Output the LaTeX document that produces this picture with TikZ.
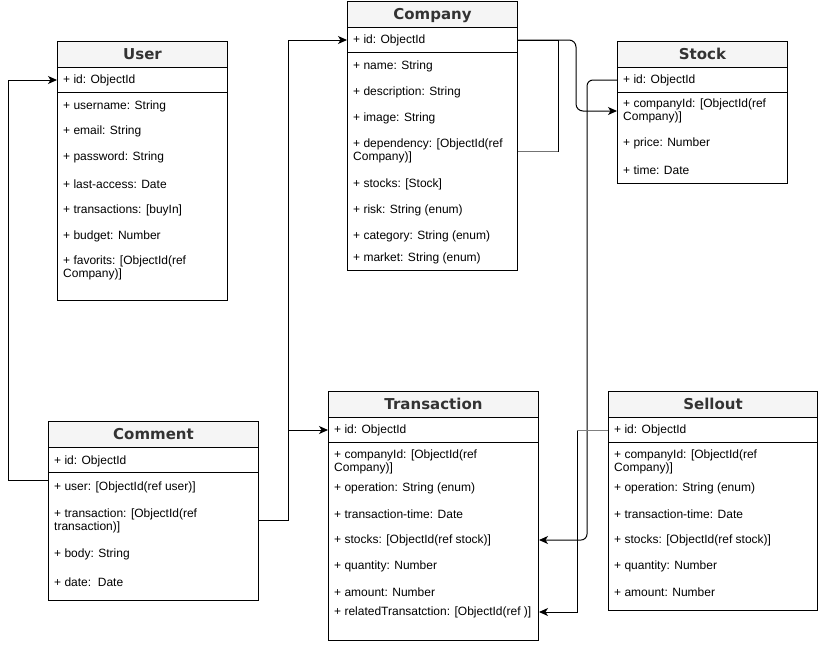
\documentclass[tikz,border=0pt]{standalone}
\usepackage{fontspec}
\setmainfont{Liberation Sans}
\newfontfamily\headfont{DejaVu Sans}
\usetikzlibrary{arrows.meta}
\definecolor{headfill}{HTML}{F5F5F5}
\definecolor{headtext}{HTML}{333333}

\tikzset{
  classbox/.style={draw, line width=1pt, fill=white, inner sep=0pt, anchor=north west},
  headbox/.style={draw, line width=1pt, fill=headfill, inner sep=0pt, anchor=north west,
    minimum height=26pt, text=headtext, text height=11pt, text depth=1pt,
    font=\headfont\bfseries\fontsize{15}{18}\selectfont},
  attr/.style={anchor=west, inner sep=0pt, align=left, font=\fontsize{12}{13}\selectfont},
  sepline/.style={line width=1pt},
  link/.style={line width=1pt},
  conn/.style={line width=1pt, -{Stealth[length=9pt,width=8pt,inset=2.5pt]}},
}

\begin{document}
\begin{tikzpicture}[x=1pt,y=-1pt]
\useasboundingbox (0,0) rectangle (818,648);

% ---------- Company ----------
\node[classbox, minimum width=170pt, minimum height=269pt] (co) at (347,1) {};
\node[headbox, minimum width=170pt] (co-h) at (347,1) {Company};
\draw[sepline] (347,52) -- (517,52);
\node[attr] (co-id)   at (353,40)  {+ id: ObjectId};
\node[attr] (co-name) at (353,66)  {+ name: String};
\node[attr] (co-desc) at (353,92)  {+ description: String};
\node[attr] (co-img)  at (353,118) {+ image: String};
\node[attr] (co-dep)  at (353,151) {+ dependency: [ObjectId(ref\\Company)]};
\node[attr] (co-stk)  at (353,184) {+ stocks: [Stock]};
\node[attr] (co-risk) at (353,210) {+ risk: String (enum)};
\node[attr] (co-cat)  at (353,236) {+ category: String (enum)};
\node[attr] (co-mkt)  at (353,258) {+ market: String (enum)};

% ---------- Stock ----------
\node[classbox, minimum width=170pt, minimum height=142pt] (st) at (617,41) {};
\node[headbox, minimum width=170pt] (st-h) at (617,41) {Stock};
\draw[sepline] (617,92) -- (787,92);
\node[attr] (st-id)    at (623,80)  {+ id: ObjectId};
\node[attr] (st-cid)   at (623,111) {+ companyId: [ObjectId(ref\\Company)]};
\node[attr] (st-price) at (623,143) {+ price: Number};
\node[attr] (st-time)  at (623,170) {+ time: Date};

% ---------- User ----------
\node[classbox, minimum width=170pt, minimum height=259pt] (us) at (57,41) {};
\node[headbox, minimum width=170pt] (us-h) at (57,41) {User};
\draw[sepline] (57,92) -- (227,92);
\node[attr] (us-id)   at (63,80)  {+ id: ObjectId};
\node[attr] (us-name) at (63,106) {+ username: String};
\node[attr] (us-mail) at (63,131) {+ email: String};
\node[attr] (us-pw)   at (63,157) {+ password: String};
\node[attr] (us-la)   at (63,184) {+ last-access: Date};
\node[attr] (us-tr)   at (63,210) {+ transactions: [buyIn]};
\node[attr] (us-bud)  at (63,236) {+ budget: Number};
\node[attr] (us-fav)  at (63,268) {+ favorits: [ObjectId(ref\\Company)]};

% ---------- Comment ----------
\node[classbox, minimum width=210pt, minimum height=179pt] (cm) at (48,421) {};
\node[headbox, minimum width=210pt] (cm-h) at (48,421) {Comment};
\draw[sepline] (48,472) -- (258,472);
\node[attr] (cm-id)   at (54,461) {+ id: ObjectId};
\node[attr] (cm-user) at (54,487) {+ user: [ObjectId(ref user)]};
\node[attr] (cm-tr)   at (54,521) {+ transaction: [ObjectId(ref\\transaction)]};
\node[attr] (cm-body) at (54,554) {+ body: String};
\node[attr] (cm-date) at (54,582) {+ date:\ \ Date};
\coordinate (cm-userport) at (48,480);

% ---------- Transaction ----------
\node[classbox, minimum width=210pt, minimum height=249pt] (tr) at (328,391) {};
\node[headbox, minimum width=210pt] (tr-h) at (328,391) {Transaction};
\draw[sepline] (328,442) -- (538,442);
\node[attr] (tr-id)   at (334,430) {+ id: ObjectId};
\node[attr] (tr-cid)  at (334,462) {+ companyId: [ObjectId(ref\\Company)]};
\node[attr] (tr-op)   at (334,488) {+ operation: String (enum)};
\node[attr] (tr-time) at (334,514) {+ transaction-time: Date};
\node[attr] (tr-stk)  at (334,540) {+ stocks: [ObjectId(ref stock)]};
\node[attr] (tr-qty)  at (334,566) {+ quantity: Number};
\node[attr] (tr-amt)  at (334,592) {+ amount: Number};
\node[attr] (tr-rel)  at (334,612) {+ relatedTransatction: [ObjectId(ref )]};

% ---------- Sellout ----------
\node[classbox, minimum width=209pt, minimum height=219pt] (se) at (608,391) {};
\node[headbox, minimum width=209pt] (se-h) at (608,391) {Sellout};
\draw[sepline] (608,442) -- (817,442);
\node[attr] (se-id)   at (614,430) {+ id: ObjectId};
\node[attr] (se-cid)  at (614,462) {+ companyId: [ObjectId(ref\\Company)]};
\node[attr] (se-op)   at (614,488) {+ operation: String (enum)};
\node[attr] (se-time) at (614,514) {+ transaction-time: Date};
\node[attr] (se-stk)  at (614,540) {+ stocks: [ObjectId(ref stock)]};
\node[attr] (se-qty)  at (614,566) {+ quantity: Number};
\node[attr] (se-amt)  at (614,592) {+ amount: Number};

% ---------- connectors ----------
% Company.dependency loops back to Company.id
\draw[link] (co.east |- co-dep) -- ++(40,0) |- (co.east |- co-id);
\draw[link, black!55] (co.east |- co-dep) -- ++(40,0);
% Company.id -> Stock.companyId
\draw[conn, rounded corners=7pt] (co.east |- co-id) -| (576,111) -- (st.west |- st-cid);
% Stock.id -> Transaction.stocks
\draw[conn, rounded corners=6pt] (st.west |- st-id) -| (587,540) -- (tr.east |- tr-stk);
% Sellout.id -> Transaction.relatedTransatction
\draw[conn] (se.west |- se-id) -| (577,612) -- (tr.east |- tr-rel);
\draw[link, black!50] (se.west |- se-id) -- (577,430);
% Comment.user -> User.id
\draw[conn] (cm-userport) -| (8,80) -- (us.west |- us-id);
% Comment.transaction -> Company.id and Transaction.id
\draw[conn] (cm.east |- 0,520) -| (288,40) -- (co.west |- co-id);
\draw[conn] (288,430) -- (tr.west |- tr-id);

\end{tikzpicture}
\end{document}
